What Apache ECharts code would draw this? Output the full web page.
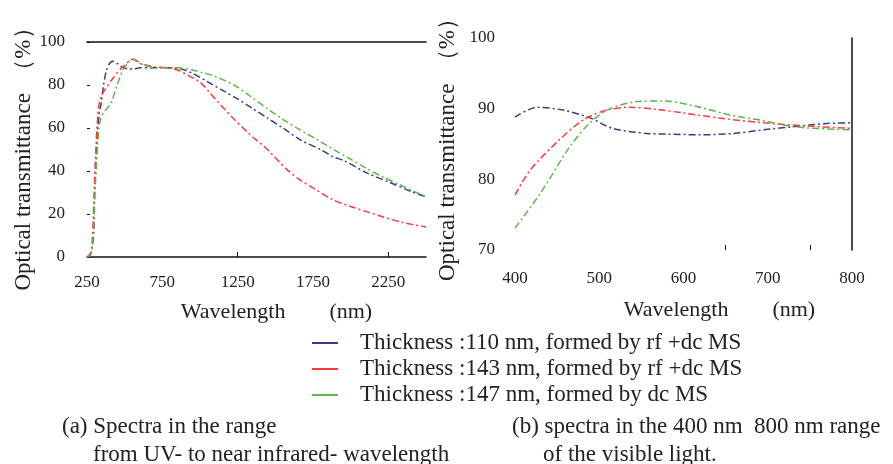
<!DOCTYPE html>
<html>
<head>
<meta charset="utf-8">
<script src="https://cdn.jsdelivr.net/npm/echarts@6/dist/echarts.min.js"></script>
<style>
  html, body { margin: 0; padding: 0; background: #fff; }
  #main { width: 893px; height: 464px; }
</style>
</head>
<body>
<div id="main"></div>
<script>
// series names
var names = [
  'Thickness :110 nm, formed by rf +dc MS',
  'Thickness :143 nm, formed by rf +dc MS',
  'Thickness :147 nm, formed by dc MS'
];
var colors = ['#3b3b8e', '#ff3a3a', '#5cb84a'];

// (a) full range 250-2500 nm
var blueWl = [250, 270, 285, 295, 300, 310, 320, 330, 345, 360, 380, 400, 422, 450, 480, 520, 555, 600, 700, 800, 870, 950, 1050, 1150, 1250, 1350, 1450, 1550, 1667, 1800, 1886, 1950, 2110, 2250, 2400, 2500];
var blueT = [0, 1, 5, 12, 28, 45, 58, 66, 72, 80, 87, 90, 91, 90, 88.5, 87.5, 87.4, 88, 88, 88, 87.5, 85.5, 81.5, 77.5, 73.5, 69, 64.5, 60, 54.4, 50, 46.5, 45, 39, 35, 30.5, 28];
var redWl = [250, 275, 285, 293, 300, 310, 320, 330, 343, 370, 420, 480, 520, 555, 600, 700, 786, 850, 917, 1005, 1070, 1137, 1220, 1316, 1380, 1448, 1515, 1580, 1660, 1753, 1886, 2000, 2110, 2220, 2330, 2420, 2500];
var redT = [0, 2, 8, 20, 35, 52, 64, 71, 74.5, 78, 83, 88, 90.5, 92, 90, 88.5, 88, 87, 84.6, 81, 76, 70.7, 64.5, 58, 54, 50, 45, 40.5, 36, 32, 26.5, 23.5, 21, 18.5, 16.3, 15, 14];
var greenWl = [250, 275, 285, 295, 300, 310, 320, 330, 343, 370, 409, 450, 488, 530, 561, 620, 674, 750, 850, 950, 1005, 1100, 1225, 1330, 1448, 1550, 1667, 1780, 1886, 2000, 2110, 2220, 2330, 2420, 2500];
var greenT = [0, 1, 5, 14, 25, 40, 52, 60, 65, 68, 71.6, 80, 87, 91, 92, 89.5, 88.4, 88, 88, 87, 86, 84, 80, 75, 69, 64, 59, 54.5, 50, 45.5, 41, 37, 33.5, 30.5, 28];

// (b) visible range 400-800 nm
var blueVisWl = [400, 426, 457, 489, 516, 556, 580, 620, 660, 695, 734, 770, 800];
var blueVisT = [88.8, 90.2, 89.8, 88.7, 87.2, 86.5, 86.4, 86.3, 86.5, 87, 87.5, 87.9, 88];
var redVisWl = [400, 418, 450, 481, 509, 536, 568, 599, 647, 695, 754, 800];
var redVisT = [77.8, 81.3, 85.3, 88.4, 89.8, 90.2, 89.9, 89.4, 88.6, 88, 87.5, 87.2];
var greenVisWl = [400, 430, 465, 489, 513, 545, 576, 616, 655, 695, 734, 800];
var greenVisT = [73.1, 78, 84.6, 88, 90, 91, 91.1, 90.3, 89.1, 88.3, 87.4, 87];

var fullTicks = [250, 750, 1250, 1750, 2250];
var visTicks = [400, 500, 600, 700, 800];

function pairs(xs, ys) {
  return xs.map(function (x, i) { return [x, ys[i]]; });
}

var serif = 'Liberation Serif';
var dashDot = [7, 3, 2, 3];
var plain = function (v) { return String(v); };

function lineSeries(i, xi, data) {
  return {
    name: names[i],
    type: 'line',
    xAxisIndex: xi,
    yAxisIndex: xi,
    data: data,
    smooth: 0.3,
    showSymbol: false,
    symbol: 'none',
    animation: false,
    itemStyle: { color: colors[i] },
    lineStyle: { color: colors[i], width: 1.5, type: dashDot }
  };
}

var axisName = { fontFamily: serif, fontSize: 22, color: '#222' };
var yName = { fontFamily: serif, fontSize: 23, color: '#222' };
var tickText = { fontFamily: serif, fontSize: 17, color: '#222' };

var chart = echarts.init(document.getElementById('main'), null, { renderer: 'canvas' });

var option = {
  backgroundColor: '#fff',
  textStyle: { fontFamily: serif },
  grid: [
    { left: 87, right: 467, top: 42, bottom: 207 },
    { left: 515, right: 41, top: 38, bottom: 214 }
  ],
  xAxis: [
    {
      gridIndex: 0, type: 'value', min: 250, max: 2500,
      name: 'Wavelength        (nm)', nameLocation: 'middle', nameGap: 44,
      nameTextStyle: Object.assign({ padding: [0, 0, 0, 40] }, axisName),
      axisLine: { show: true, lineStyle: { color: '#111', width: 1.5 } },
      axisTick: { show: true, inside: true, length: 5, customValues: [1250, 2250], lineStyle: { color: '#111' } },
      axisLabel: Object.assign({ customValues: fullTicks, margin: 17, formatter: plain }, tickText),
      splitLine: { show: false }
    },
    {
      gridIndex: 1, type: 'value', min: 400, max: 800,
      name: 'Wavelength        (nm)', nameLocation: 'middle', nameGap: 49,
      nameTextStyle: Object.assign({ padding: [0, 0, 0, 72] }, axisName),
      axisLine: { show: false },
      axisTick: { show: true, inside: true, length: 5, customValues: [650, 750], lineStyle: { color: '#111' } },
      axisLabel: Object.assign({ customValues: visTicks, margin: 20, formatter: plain }, tickText),
      splitLine: { show: false }
    },
    {
      gridIndex: 0, type: 'value', min: 250, max: 2500, position: 'top',
      axisLine: { show: true, lineStyle: { color: '#111', width: 1.5 } },
      axisTick: { show: false }, axisLabel: { show: false }, splitLine: { show: false }
    }
  ],
  yAxis: [
    {
      gridIndex: 0, type: 'value', min: 0, max: 100, interval: 20,
      name: 'Optical transmittance  （%）', nameLocation: 'middle', nameGap: 52, nameRotate: 90,
      nameTextStyle: Object.assign({ padding: [0, 8, 0, 0] }, yName),
      axisLine: { show: false },
      axisTick: { show: true, inside: true, length: 3, lineStyle: { color: '#111' } },
      axisLabel: Object.assign({ margin: 22, formatter: plain }, tickText),
      splitLine: { show: false }
    },
    {
      gridIndex: 1, type: 'value', min: 70, max: 100, interval: 10,
      name: 'Optical transmittance  （%）', nameLocation: 'middle', nameGap: 56, nameRotate: 90,
      nameTextStyle: Object.assign({ padding: [0, 0, 0, 0] }, yName),
      axisLine: { show: false },
      axisTick: { show: false },
      axisLabel: Object.assign({ margin: 20, formatter: plain }, tickText),
      splitLine: { show: false }
    },
    {
      gridIndex: 1, type: 'value', min: 70, max: 100, position: 'right',
      axisLine: { show: true, lineStyle: { color: '#111', width: 1.5 } },
      axisTick: { show: false }, axisLabel: { show: false }, splitLine: { show: false }
    }
  ],
  legend: {
    orient: 'vertical',
    left: 307,
    top: 326,
    icon: 'rect',
    itemWidth: 26,
    itemHeight: 2,
    itemGap: 2,
    data: names,
    textStyle: { fontFamily: serif, fontSize: 23, lineHeight: 24, color: '#222', padding: [0, 0, 0, 17] }
  },
  graphic: [
    { type: 'text', left: 62, top: 415, style: { text: '(a) Spectra in the range', font: '23px "Liberation Serif"', fill: '#222' } },
    { type: 'text', left: 93, top: 443, style: { text: 'from UV- to near infrared- wavelength', font: '23px "Liberation Serif"', fill: '#222' } },
    { type: 'text', left: 512, top: 415, style: { text: '(b) spectra in the 400 nm  800 nm range', font: '23px "Liberation Serif"', fill: '#222' } },
    { type: 'text', left: 543, top: 443, style: { text: 'of the visible light.', font: '23px "Liberation Serif"', fill: '#222' } }
  ],
  series: [
    lineSeries(0, 0, pairs(blueWl, blueT)),
    lineSeries(1, 0, pairs(redWl, redT)),
    lineSeries(2, 0, pairs(greenWl, greenT)),
    lineSeries(0, 1, pairs(blueVisWl, blueVisT)),
    lineSeries(1, 1, pairs(redVisWl, redVisT)),
    lineSeries(2, 1, pairs(greenVisWl, greenVisT))
  ]
};

chart.setOption(option);
</script>
</body>
</html>
